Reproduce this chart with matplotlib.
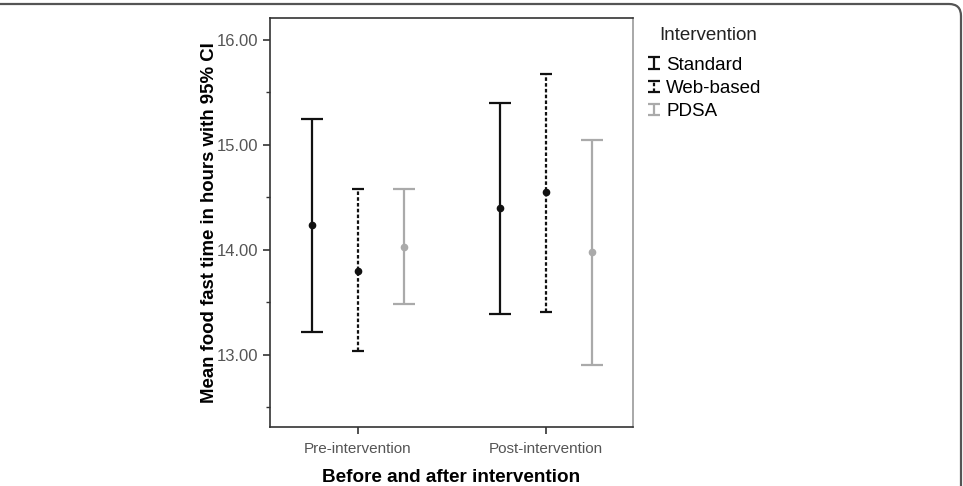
import matplotlib
matplotlib.use("Agg")
import matplotlib.pyplot as plt
from matplotlib.patches import FancyBboxPatch
from matplotlib.legend_handler import HandlerErrorbar
import numpy as np

plt.rcParams['font.family'] = ['Liberation Sans', 'DejaVu Sans']

categories = ["Pre-intervention", "Post-intervention"]
groups = ["Standard", "Web-based", "PDSA"]
means = {
    "Standard": [14.24, 14.40],
    "Web-based": [13.80, 14.55],
    "PDSA": [14.03, 13.98],
}
lower = {
    "Standard": [13.22, 13.39],
    "Web-based": [13.03, 13.41],
    "PDSA": [13.48, 12.90],
}
upper = {
    "Standard": [15.25, 15.40],
    "Web-based": [14.58, 15.68],
    "PDSA": [14.58, 15.05],
}
yticks = [13.0, 14.0, 15.0, 16.0]
ytick_labels = ["13.00", "14.00", "15.00", "16.00"]

colors = {"Standard": "#111111", "Web-based": "#111111", "PDSA": "#aaaaaa"}
styles = {"Standard": "-", "Web-based": (0, (1.6, 1.0)), "PDSA": "-"}
offsets = {"Standard": -0.245, "Web-based": 0.0, "PDSA": 0.245}

fig = plt.figure(figsize=(9.63, 4.86), dpi=100)
ax = fig.add_axes([270/963, 1-427/486, 363/963, 409/486])

x = np.arange(len(categories))
for g in groups:
    m = np.array(means[g])
    lo = m - np.array(lower[g])
    hi = np.array(upper[g]) - m
    eb = ax.errorbar(x + offsets[g], m, yerr=[lo, hi], fmt='o', color=colors[g],
                     ms=4.5, elinewidth=1.6, capsize=8 if g != "Web-based" else 4,
                     capthick=1.6, zorder=3)
    eb[2][0].set_linestyle(styles[g])

# legend proxies
handles = []
for g in groups:
    h = ax.errorbar([np.nan], [np.nan], yerr=[[0.1], [0.1]], fmt='none', color=colors[g],
                    elinewidth=1.6, capsize=4, capthick=1.6, label=g)
    h[2][0].set_linestyle(styles[g])
    handles.append(h)

ax.set_xlim(-0.468, 1.463)
ax.set_ylim(12.31, 16.21)
ax.set_xticks(x)
ax.set_xticklabels(categories, fontsize=11, color="#555555")
ax.set_yticks(yticks)
ax.set_yticklabels(ytick_labels, fontsize=12, color="#555555")
ax.set_yticks([12.5, 13.5, 14.5, 15.5], minor=True)
ax.tick_params(axis='y', which='major', length=5, width=1.2, color="#333333")
ax.tick_params(axis='y', which='minor', length=3, width=1, color="#333333")
ax.tick_params(axis='x', length=5, width=1.2, color="#333333", pad=6)
for s in ax.spines.values():
    s.set_color("#333333")
    s.set_linewidth(1.2)
ax.spines['right'].set_color("#999999")

ax.set_ylabel("Mean food fast time in hours with 95% CI", fontsize=13.4,
              fontweight='bold', labelpad=-1)
ax.set_xlabel("Before and after intervention", fontsize=13.6, fontweight='bold', labelpad=9)

fig.text(659/963, 1-35/486, "Intervention", fontsize=13.5, color="#222222",
         ha='left', va='center')
hmap = {h: HandlerErrorbar(yerr_size=0.3) for h in handles}
leg = fig.legend(handles=handles, labels=groups,
                 loc='upper left', bbox_to_anchor=(640/963, 1-47/486), frameon=False,
                 fontsize=13.5, borderpad=0.0,
                 handlelength=0.5, handletextpad=0.4, labelspacing=0.33,
                 handler_map=hmap)

border = FancyBboxPatch((-20, -30), 981, 512, boxstyle="round,pad=0,rounding_size=12",
                        transform=None, fill=False, edgecolor="#555555", lw=1.6)
fig.patches.append(border)

fig.savefig("out.png", dpi=100)
